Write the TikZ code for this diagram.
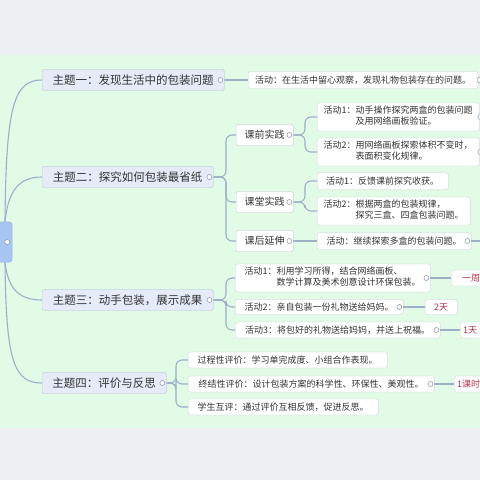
\documentclass[tikz,border=0pt]{standalone}
\usepackage{fontspec}
\setmainfont{Noto Sans CJK SC}
\definecolor{bggray}{HTML}{EEEFF3}
\definecolor{bggreen}{HTML}{E1FBE6}
\definecolor{connc}{HTML}{9CB0C8}
\definecolor{topicfill}{HTML}{E5ECF7}
\definecolor{topicdraw}{HTML}{C3CEDE}
\definecolor{boxdraw}{HTML}{C9CDD3}
\definecolor{rootfill}{HTML}{A8C5F2}
\definecolor{rootdraw}{HTML}{8EAEE0}
\definecolor{tagred}{HTML}{B8344F}
\definecolor{knobc}{HTML}{8F9FB5}
\definecolor{txt}{HTML}{333333}
\tikzset{
  topic/.style={draw=topicdraw, fill=topicfill, rounded corners=2pt, minimum height=21pt, font=\fontsize{11.5}{13}\selectfont, inner xsep=4pt, anchor=west, text=txt},
  subbox/.style={draw=boxdraw, fill=white, rounded corners=1.5pt, minimum height=21pt, minimum width=57pt, font=\fontsize{10}{12}\selectfont, anchor=west, text=txt},
  act/.style={draw=boxdraw, fill=white, rounded corners=1.5pt, minimum height=17pt, font=\fontsize{9}{11}\selectfont, anchor=west, align=left, inner xsep=5pt, inner ysep=2pt, text=txt},
  tagbox/.style={act, align=center, text=tagred},
  edgetag/.style={draw=boxdraw, fill=white, rounded corners=1.5pt, font=\fontsize{9}{11}\selectfont, text=tagred, minimum height=16pt, anchor=west, text width=#1, align=left, inner xsep=3pt},
  knob/.style={circle, draw=knobc, fill=white, inner sep=0pt, minimum size=5pt, line width=0.6pt},
  lnk/.style={draw=connc, line width=1.1pt},
  elbow/.style={lnk, rounded corners=6pt},
  rootbox/.style={draw=rootdraw, fill=rootfill, rounded corners=3pt, minimum width=20pt, minimum height=40pt}
}
\begin{document}
\begin{tikzpicture}[x=1pt, y=-1pt]
\useasboundingbox (0,0) rectangle (480,480);
\fill[bggray] (0,0) rectangle (480,480);
\fill[bggreen] (0,55) rectangle (480,428);

% root
\node[rootbox] (root) at (2,242) {};

% topics
\node[topic, minimum width=182pt] (t1) at (42,80) {主题一：发现生活中的包装问题};
\node[topic, minimum width=171pt] (t2) at (42,177) {主题二：探究如何包装最省纸};
\node[topic, minimum width=171pt] (t3) at (42,300) {主题三：动手包装，展示成果};
\node[topic, minimum width=124pt] (t4) at (42,383) {主题四：评价与反思};

% topic 1
\node[act, minimum width=230pt] (a1) at (248,80) {活动：在生活中留心观察，发现礼物包装存在的问题。};

% topic 2
\node[subbox] (s1) at (236,135) {课前实践};
\node[subbox] (s2) at (236,202) {课堂实践};
\node[subbox] (s3) at (236,241) {课后延伸};
\node[act, minimum width=162pt, minimum height=28pt] (p1) at (317,117) {\begin{tabular}{@{}l@{}l@{}}活动1：&动手操作探究两盒的包装问题\\&及用网络画板验证。\end{tabular}};
\node[act, minimum width=162pt, minimum height=28pt] (p2) at (317,152) {\begin{tabular}{@{}l@{}l@{}}活动2：&用网络画板探索体积不变时，\\&表面积变化规律。\end{tabular}};
\node[act, minimum width=131pt] (q1) at (317,181) {活动1：反馈课前探究收获。};
\node[act, minimum width=153pt, minimum height=28pt] (q2) at (317,211) {\begin{tabular}{@{}l@{}l@{}}活动2：&根据两盒的包装规律，\\&探究三盒、四盒包装问题。\end{tabular}};
\node[act, minimum width=154pt] (r1) at (317,241) {活动：继续探索多盒的包装问题。};
\coordinate (e1) at (482,241);

% topic 3
\node[act, minimum width=195pt, minimum height=28pt] (u1) at (235,278) {\begin{tabular}{@{}l@{}l@{}}活动1：&利用学习所得，结合网络画板、\\&数学计算及美术创意设计环保包装。\end{tabular}};
\node[act, minimum width=168pt, minimum height=15pt] (u2) at (235,307) {活动2：亲自包装一份礼物送给妈妈。};
\node[act, minimum width=205pt, minimum height=16pt] (u3) at (235,330) {活动3：将包好的礼物送给妈妈，并送上祝福。};
\node[tagbox, minimum width=40pt, minimum height=16pt] (g1) at (451,278) {一周};
\node[tagbox, minimum width=32pt, minimum height=15pt] (g2) at (425,307) {2天};
\node[edgetag=30pt] (g3) at (460,330) {1天};

% topic 4
\node[act, minimum width=199pt, minimum height=16pt] (v1) at (188,360) {过程性评价：学习单完成度、小组合作表现。};
\node[act, minimum width=246pt, minimum height=16pt] (v2) at (188,384) {终结性评价：设计包装方案的科学性、环保性、美观性。};
\node[act, minimum width=190pt, minimum height=16pt] (v3) at (188,407) {学生互评：通过评价互相反馈，促进反思。};
\node[edgetag=40pt] (g4) at (454,384) {1课时};

% connectors
\draw[lnk] ([xshift=3pt]root.north) .. controls (6,105) and (14,80) .. (t1.west);
\draw[lnk] ([xshift=3pt]root.north) .. controls (8,192) and (18,177) .. (t2.west);
\draw[lnk] ([xshift=3pt]root.south) .. controls (8,288) and (18,300) .. (t3.west);
\draw[lnk] ([xshift=3pt]root.south) .. controls (6,362) and (14,383) .. (t4.west);

\draw[lnk] (t1.east) -- (a1.west);

\draw[elbow] (t2.east) -| (226,135) -- (s1.west);
\draw[elbow] (t2.east) -| (226,202) -- (s2.west);
\draw[elbow] (t2.east) -| (226,241) -- (s3.west);
\draw[elbow] (s1.east) -| (305,117) -- (p1.west);
\draw[elbow] (s1.east) -| (305,152) -- (p2.west);
\draw[elbow] (s2.east) -| (305,181) -- (q1.west);
\draw[elbow] (s2.east) -| (305,211) -- (q2.west);
\draw[lnk] (s3.east) -- (r1.west);
\draw[lnk] (r1.east) -- (e1);

\draw[elbow] (t3.east) -| (226,278) -- (u1.west);
\draw[elbow] (t3.east) -| (226,307) -- (u2.west);
\draw[elbow] (t3.east) -| (226,330) -- (u3.west);
\draw[lnk] (u1.east) -- (g1.west);
\draw[lnk] (u2.east) -- (g2.west);
\draw[lnk] (u3.east) -- (g3.west);

\draw[elbow] (t4.east) -| (176,360) -- (v1.west);
\draw[elbow] (t4.east) -| (176,384) -- (v2.west);
\draw[elbow] (t4.east) -| (176,407) -- (v3.west);
\draw[lnk] (v2.east) -- (g4.west);

% redraw nodes on top of connectors
\node[rootbox] at (root) {};
\node[topic, minimum width=182pt] at (42,80) {主题一：发现生活中的包装问题};
\node[topic, minimum width=171pt] at (42,177) {主题二：探究如何包装最省纸};
\node[topic, minimum width=171pt] at (42,300) {主题三：动手包装，展示成果};
\node[topic, minimum width=124pt] at (42,383) {主题四：评价与反思};
\node[subbox] at (236,135) {课前实践};
\node[subbox] at (236,202) {课堂实践};
\node[subbox] at (236,241) {课后延伸};

% knobs
\foreach \n in {t1,t2,t3,t4,s1,s2,s3,r1,u1,u2,u3,v2}
  \node[knob] at ([xshift=-4pt]\n.east) {};
\foreach \n in {a1,p1,p2}
  \node[knob] at ([xshift=1pt]\n.east) {};
\node[knob] at ([xshift=-5pt]root.east) {};
\end{tikzpicture}
\end{document}
